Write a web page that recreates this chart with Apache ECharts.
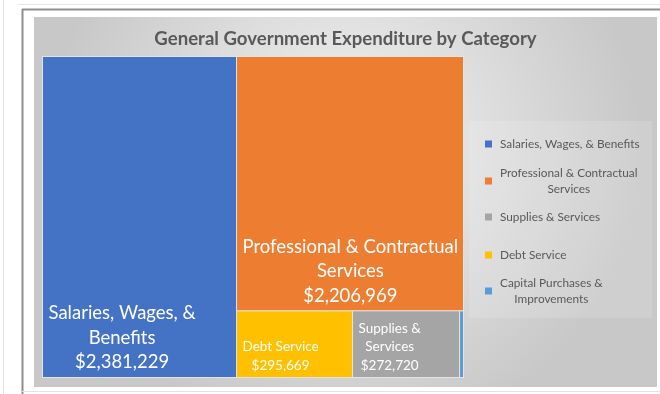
<!DOCTYPE html>
<html>
<head>
<meta charset="utf-8">
<script src="https://cdn.jsdelivr.net/npm/echarts@6/dist/echarts.min.js"></script>
<style>
  html, body { margin: 0; padding: 0; background: #ffffff; }
  #chart { width: 660px; height: 394px; }
</style>
</head>
<body>
<div id="chart"></div>
<script>
// Expenditure categories and amounts (USD)
const categories = [
  'Salaries, Wages, & Benefits',
  'Professional & Contractual Services',
  'Supplies & Services',
  'Debt Service',
  'Capital Purchases & Improvements'
];
const values = [2381229, 2206969, 272720, 295669, 10000];
const colors = ['#4472C4', '#ED7D31', '#A5A5A5', '#FFC000', '#5B9BD5'];

// How each name wraps inside its tile (null = no tile label)
const tileLines = [
  ['Salaries, Wages, &', 'Benefits'],
  ['Professional & Contractual', 'Services'],
  ['Supplies &', 'Services'],
  ['Debt Service'],
  null
];
// How each name wraps in the legend
const legendLines = [
  ['Salaries, Wages, & Benefits'],
  ['Professional & Contractual', 'Services'],
  ['Supplies & Services'],
  ['Debt Service'],
  ['Capital Purchases &', 'Improvements']
];

const FONT = 'Lato, "Noto Sans", sans-serif';
const tileFontSize = [18.5, 18.5, 13.5, 13.5, 13.5];
const tileLineHeight = [24.5, 24.5, 18.5, 18.5, 18.5];

const measureCtx = document.createElement('canvas').getContext('2d');
function textWidth(str, size, weight) {
  measureCtx.font = (weight || 'normal') + ' ' + size + 'px ' + FONT;
  return measureCtx.measureText(str).width;
}
function money(v) {
  return '$' + v.toLocaleString('en-US');
}

// Tile label: block anchored bottom-left, lines centred within the block
function tileLabel(i) {
  if (!tileLines[i]) return { show: false };
  const lines = tileLines[i].concat([money(values[i])]);
  const size = tileFontSize[i];
  const w = Math.max.apply(null, lines.map(l => textWidth(l, size)));
  return {
    show: true,
    formatter: lines.join('\n'),
    fontSize: size,
    lineHeight: tileLineHeight[i],
    position: [5.5 + w / 2, '100%'],
    align: 'center',
    verticalAlign: 'bottom',
    offset: [0, -2.5],
    overflow: 'none'
  };
}

const treeData = categories.map((name, i) => ({
  name: name,
  value: values[i],
  itemStyle: { color: colors[i] },
  label: tileLabel(i)
}));

// Legend drawn as graphic elements
const legendCenterY = [144, 181, 217, 255, 291];
const legendSize = 11.8;
const legendLH = 16.5;
const legendGraphics = [];
categories.forEach((name, i) => {
  const lines = legendLines[i];
  const cy = legendCenterY[i];
  legendGraphics.push({
    type: 'rect',
    shape: { x: 485, y: cy - 3.5, width: 7, height: 7 },
    style: { fill: colors[i] },
    silent: true
  });
  const w = Math.max.apply(null, lines.map(l => textWidth(l, legendSize)));
  legendGraphics.push({
    type: 'text',
    x: 500 + w / 2,
    y: cy,
    style: {
      text: lines.join('\n'),
      font: legendSize + 'px ' + FONT,
      lineHeight: legendLH,
      fill: '#595959',
      align: 'center',
      verticalAlign: 'middle'
    },
    silent: true
  });
});

const chart = echarts.init(document.getElementById('chart'), null, { renderer: 'canvas' });
chart.setOption({
  animation: false,
  backgroundColor: '#ffffff',
  graphic: [
    // page frame
    { type: 'line', shape: { x1: 3.5, y1: 0, x2: 3.5, y2: 394 }, style: { stroke: '#e4e4e4', lineWidth: 1 }, silent: true, z: -20 },
    { type: 'line', shape: { x1: 18, y1: 4.5, x2: 660, y2: 4.5 }, style: { stroke: '#e6e6e6', lineWidth: 1 }, silent: true, z: -20 },
    { type: 'line', shape: { x1: 22, y1: 9.5, x2: 660, y2: 9.5 }, style: { stroke: '#8e8e8e', lineWidth: 2 }, silent: true, z: -20 },
    { type: 'line', shape: { x1: 22.5, y1: 9, x2: 22.5, y2: 394 }, style: { stroke: '#8e8e8e', lineWidth: 2 }, silent: true, z: -20 },
    { type: 'line', shape: { x1: 22, y1: 391.5, x2: 660, y2: 391.5 }, style: { stroke: '#e2e2e2', lineWidth: 1 }, silent: true, z: -20 },
    // chart panel with soft radial shading
    {
      type: 'rect',
      shape: { x: 34, y: 17, width: 623, height: 370 },
      style: {
        fill: new echarts.graphic.RadialGradient(0.5, 0.35, 0.8, [
          { offset: 0, color: '#f3f3f3' },
          { offset: 1, color: '#c8c8c8' }
        ])
      },
      silent: true,
      z: -10
    },
    // legend box
    {
      type: 'rect',
      shape: { x: 469, y: 121, width: 183, height: 197 },
      style: { fill: 'rgba(255,255,255,0.14)' },
      silent: true,
      z: -5
    },
    // title
    {
      type: 'text',
      x: 345.5,
      y: 39,
      style: {
        text: 'General Government Expenditure by Category',
        font: 'bold 18.6px ' + FONT,
        fill: '#595959',
        align: 'center',
        verticalAlign: 'middle'
      },
      silent: true
    }
  ].concat(legendGraphics),
  series: [{
    type: 'treemap',
    left: 42,
    top: 56,
    width: 422,
    height: 322,
    roam: false,
    nodeClick: false,
    breadcrumb: { show: false },
    sort: 'desc',
    squareRatio: 1,
    label: {
      color: '#ffffff',
      fontFamily: FONT,
      padding: 0
    },
    emphasis: { disabled: true },
    levels: [
      { itemStyle: { borderColor: '#e3e3e3', borderWidth: 1, gapWidth: 1 } },
      { itemStyle: { borderWidth: 0, gapWidth: 0 } }
    ],
    data: treeData
  }]
});
</script>
</body>
</html>
